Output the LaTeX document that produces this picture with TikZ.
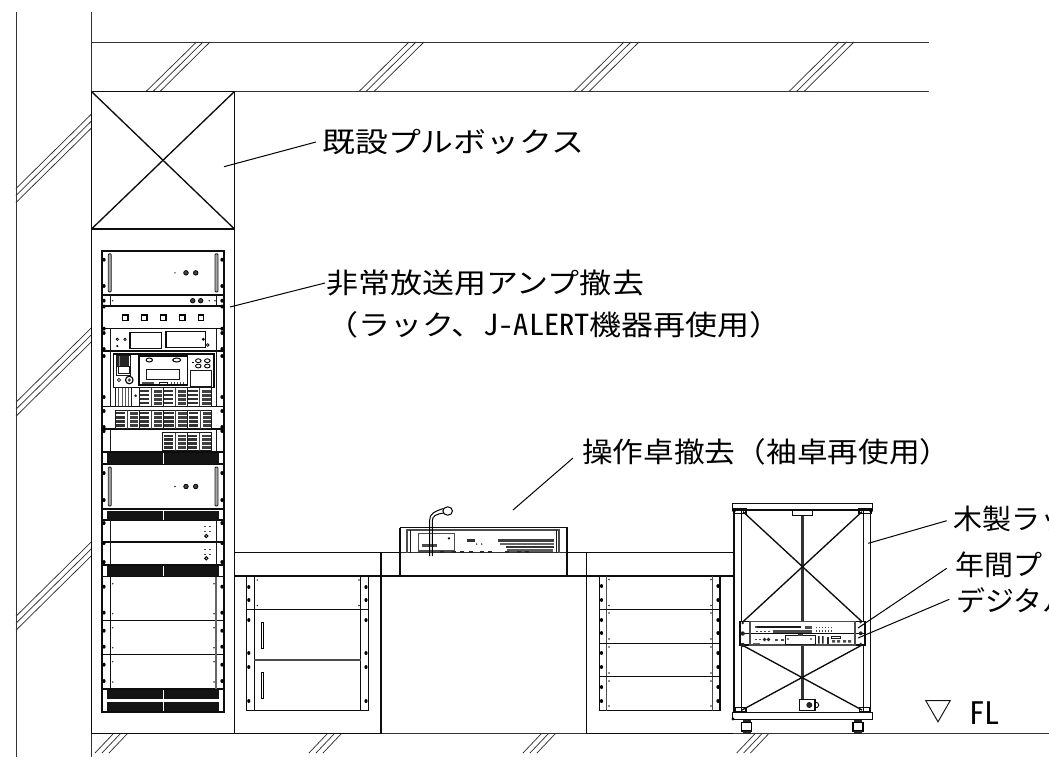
\documentclass[tikz,border=0pt]{standalone}
\usepackage{fontspec}
\setmainfont{Noto Sans CJK JP}
\newfontfamily\hw{Noto Sans CJK JP}[RawFeature=+hwid]
\tikzset{
  wall/.style={line width=1pt,draw=black!80},
  hatch/.style={line width=0.75pt,draw=black!80},
  frame/.style={line width=1.35pt,draw=black!95},
  thinl/.style={line width=0.8pt,draw=black!90},
  heavy/.style={line width=1.7pt,draw=black!95},
  leader/.style={line width=1pt,draw=black},
  lab/.style={anchor=west,inner sep=0pt,font=\fontsize{28}{32}\selectfont,text=black},
}
\definecolor{ventc}{gray}{0.08}
\newcommand{\spc}[1]{\addfontfeatures{FakeStretch=#1}}
\newcommand{\scr}[2]{\fill[black] (#1,#2) ellipse (1.6 and 2);}
\newcommand{\dott}[2]{\fill[black!85] (#1,#2) circle (0.8);}
\newcommand{\vent}[2]{\fill[ventc] (106.7,#1) rectangle (219.3,#2);\draw[white,line width=0.7pt] (163,#1)--(163,#2);}
\newcommand{\knob}[2]{\draw[line width=0.7pt,fill=black!75] (#1,#2) circle (2.3);}
% breaker module: x1 y1 x2 y2
\newcommand{\brk}[4]{%
  \draw[line width=1pt,draw=black!90] (#1,#2) rectangle (#3,#4);
  \foreach \k in {0.1,0.32,0.54,0.76}{
    \fill[black!80] ({#1+1},{#2+\k*(#4-#2)}) rectangle ({#1+0.42*(#3-#1)},{#2+(\k+0.14)*(#4-#2)});
    \fill[black!75] ({#1+0.62*(#3-#1)},{#2+\k*(#4-#2)}) rectangle ({#3-1},{#2+(\k+0.16)*(#4-#2)});
  }
  \draw[line width=1pt,draw=black!75] ({#1+0.52*(#3-#1)},#2)--({#1+0.52*(#3-#1)},#4);
}
\newcommand{\ampunit}[2]{%
  \draw[thinl,rounded corners=1pt,fill=black!35] (108.3,{#1+3}) rectangle (111.3,{#2-3});
  \draw[thinl,rounded corners=1pt,fill=black!35] (215,{#1+3}) rectangle (218,{#2-3});
  \knob{186}{{(#1+#2)/2}}\knob{195.7}{{(#1+#2)/2}}\dott{175}{{(#1+#2)/2}}
  \scr{104}{{#1+9}}\scr{222}{{#1+9}}\scr{104}{{#2-9}}\scr{222}{{#2-9}}
}
\newcommand{\blank}[2]{%
  \dott{112.7}{{#1+7}}\dott{214}{{#1+7}}\dott{112.7}{{#2-7}}\dott{214}{{#2-7}}
  \scr{104}{{#1+10}}\scr{222}{{#1+10}}\scr{104}{{#2-8}}\scr{222}{{#2-8}}
}
\begin{document}
\begin{tikzpicture}[x=1pt,y=-1pt]
\useasboundingbox (0,0) rectangle (1049,764);
% walls
\draw[wall] (16,12)--(16,757);
\draw[wall] (91.5,12)--(91.5,757);
\draw[wall] (91.5,42)--(929,42);
\draw[wall] (91.5,91.5)--(929,91.5);
\draw[wall] (91.5,733.5)--(1049,733.5);
% hatches: top
\foreach \t/\b in {196.5/146,203/153,210/160,409/359,416/366,424/374,624/574,631/581,639/589,839/789,846.5/796.5,854/804}
  \draw[hatch] (\t,42)--(\b,91.5);
% hatches: left
\foreach \d in {114,121,128,327.7,334.7,341.7,541.7,548.7,555.7}
  \draw[hatch] (91.5,\d)--(16,{\d+74.5});
% hatches: floor
\foreach \t in {113,120,127,327,334,341,541,548,555,754.7,761.6,768.4}
  \draw[hatch] (\t,734)--({\t-18},753);
% pull box
\draw[frame] (91.5,91.5) rectangle (234.5,229);
\draw[frame] (91.5,91.5)--(234.5,229) (91.5,229)--(234.5,91.5);
% rack column
\draw[frame] (91.5,229)--(91.5,733.5)--(234.5,733.5)--(234.5,229);
% ---- rack ----
\draw[heavy] (102,250.7) rectangle (224.3,711.7);
\foreach \y in {295,306,328.7,351,406.7,429,452,464,509,520,542,565,576.7,620.7,654.7,689}
  \draw[frame] (102,\y)--(224.3,\y);
\ampunit{250.7}{295}
% unit 2
\knob{192.7}{300.7}\knob{200.7}{300.7}\dott{112.7}{300.7}\dott{209.3}{300.7}\dott{215}{300.7}
\scr{104}{300.7}\scr{222}{300.7}
\draw[thinl] (110.7,295)--(110.7,306) (216,295)--(216,306);
% unit 3
\foreach \x in {125.3,144.3,163.3,182.3,201}
  \draw[line width=1.1pt] (\x-2.7,315) rectangle (\x+2.7,320.4);
\scr{104}{306.5}\scr{222}{306.5}\scr{104}{328.7}\scr{222}{328.7}
% unit 4
\draw[frame] (130,332.3) rectangle (161.7,348.3);
\draw[frame] (166,331.7) rectangle (205.7,347.7);
\draw[thinl] (110.7,328.7)--(110.7,351) (216,328.7)--(216,351);
\draw[line width=0.7pt] (117.3,339.3) circle (1.2) (125,339.3) circle (1.2) (207.7,345) circle (1.4);
\fill (117.3,346) circle (1.2) (203.3,339.3) circle (1.6);
\scr{104}{333}\scr{222}{333}\scr{104}{349}\scr{222}{349}
% unit 5 (control panel)
\draw[thinl] (110.7,351)--(110.7,406.7) (216,351)--(216,406.7);
\draw[frame] (113.3,354) rectangle (214,387.3);
\draw[thinl] (116.7,355) rectangle (130,375);
\fill[black!85] (117.3,355.5) rectangle (129.4,366.5);
\fill[black!45] (118.5,356) rectangle (120,366);
\draw[thinl,fill=white] (118,366.5) rectangle (129,373);
\draw[line width=1.1pt] (129.3,380) circle (3.8);
\fill[black!70] (129.3,380) circle (1.8);
\draw[thinl] (119,380) circle (1.6);
\draw[frame] (139,356) rectangle (187.7,385);
\draw[thinl] (146.7,369.3) rectangle (179.3,379.3);
\draw[line width=1pt] (149.3,360) ellipse (3.2 and 2) (176.7,360) ellipse (4 and 2);
\fill[black!70] (142,382) rectangle (154,384);
\draw[thinl] (159,382) rectangle (167,384.5);
\foreach \x in {171,174,177,180,183}{\fill[black!70] (\x,382) rectangle (\x+1.4,384);}
\draw[thinl] (190,370) rectangle (211.7,386);
\foreach \x in {198.3,207.3}{
  \draw[line width=0.9pt] (\x,360.7) ellipse (2.8 and 1.9);
  \draw[line width=0.9pt] (\x,366) ellipse (2.8 and 1.9);}
\fill (192,362) rectangle (194,363);
\fill (200.5,369.5) rectangle (202,371);
% breakers under panel
\draw[thinl] (115,387.3) rectangle (131,406);
\foreach \x in {118.5,122,125.5,128}{\draw[line width=0.8pt,draw=black!65] (\x,388)--(\x,405.5);}
\fill[black!85] (135.7,395.7) circle (1.5);
\brk{139.3}{387.8}{163.3}{406}\brk{163.3}{387.8}{187.3}{406}\brk{187.3}{387.8}{211.7}{406}
\brk{115}{410}{139.2}{428.5}\brk{139.2}{410}{163.4}{428.5}\brk{163.4}{410}{187.5}{428.5}\brk{187.5}{410}{211.7}{428.5}
\brk{162.7}{432.7}{187.2}{450.7}\brk{187.2}{432.7}{211.7}{450.7}
\draw[thinl] (110.7,429)--(110.7,452) (216,429)--(216,452);
\scr{104}{356}\scr{222}{356}\scr{104}{397}\scr{222}{397}\scr{104}{411}\scr{222}{411}\scr{104}{427}\scr{222}{427}\scr{104}{431}\scr{222}{431}
% vents
\vent{452.5}{463.5}
\ampunit{464}{509}
\vent{510.5}{519.5}
% two small units
\draw[thinl] (110.7,520)--(110.7,565) (216,520)--(216,565);
\foreach \y in {526.7,531.7,549,554}{\foreach \x in {205,210}{\fill[black!70] (\x-0.8,\y-0.4) rectangle (\x+0.8,\y+0.4);}}
\draw[line width=1pt] (206.3,536) circle (1.6) (206.3,558.3) circle (1.6);
\scr{104}{523}\scr{222}{523}\scr{104}{543}\scr{222}{543}\scr{104}{562}\scr{222}{562}
\vent{566}{576}
% blanks
\draw[frame] (110.7,576.7)--(110.7,689);
\draw[line width=1.5pt,draw=black!60] (216,576.7)--(216,689);
\blank{576.7}{620.7}\blank{620.7}{654.7}\blank{654.7}{689}
\vent{689.5}{699}\vent{701.7}{710.5}
% ---- desk ----
\draw[frame] (234.5,552.7)--(400,552.7);
\draw[frame] (567,552.7)--(733,552.7);
\draw[frame] (234.5,576)--(567,576) (567,576)--(733,576);
\draw[wall] (400,552.7)--(567,552.7);
\draw[frame] (381,552.7)--(381,733.5);
\draw[frame] (586.5,552.7)--(586.5,733.5);
\draw[frame] (234.5,733.5)--(381,733.5) (586.5,733.5)--(733,733.5);
% left desk rack
\draw[frame] (246.7,576)--(246.7,710.7)--(368.7,710.7)--(368.7,576);
\draw[frame] (254.3,576)--(254.3,710.7);
\draw[frame] (360.7,576)--(360.7,710.7);
\draw[frame] (246.7,609.3)--(368.7,609.3);
\draw[frame,draw=black!70] (254.3,660)--(360.7,660);
\foreach \a/\b in {622/648,672.7/698.7}
  \draw[line width=1pt] (261.2,\a) rectangle (263.3,\b);
\foreach \y in {587,600,620,653,667,701}{\scr{248.8}{\y}\scr{366}{\y}}
\dott{257.3}{580}\dott{257.3}{605.5}\dott{359}{580}\dott{359}{605.5}
% right desk rack
\draw[frame] (599.3,576)--(599.3,710.7)--(720,710.7)--(720,576);
\draw[frame,draw=black!70] (606.7,576)--(606.7,710.7);
\draw[frame,draw=black!70] (712.7,576)--(712.7,710.7);
\foreach \y in {609.3,643.3,676.7}{\draw[frame] (599.3,\y)--(720,\y);}
\foreach \y in {586,600,620,633,653,667,687,701}{\scr{601.5}{\y}\scr{718}{\y}}
\foreach \y in {579.5,605.5,613,639,647,673,681,706}{\dott{609}{\y}\dott{711}{\y}}
% ---- console ----
\draw[frame] (400,527.7)--(567,527.7)--(567,576);
\draw[frame] (400,527.7)--(400,576);
\draw[frame,draw=black!70] (407,553)--(407,530)--(559,530)--(559,553);
\draw[thinl] (410,530)--(410,553) (556.7,530)--(556.7,553);
\draw[frame,draw=black!70] (418.3,551)--(418.3,533.3)--(454.3,533.3)--(454.3,551)--cycle;
\fill[black!70] (421.7,544.3) rectangle (437.3,547.3);
\fill (449,538.3) circle (1.3);
\fill[black!80] (467.3,539.3) rectangle (475.3,541.7);
\dott{476.7}{544}\dott{481.7}{544}
\fill[black!75] (498.3,539.3) rectangle (554,541.7);
\fill[black!60] (500,542.7) rectangle (554,545);
\fill[black!80] (506,545.7) rectangle (554,548.3);
\fill[black!65] (506.7,549) rectangle (553.3,551.7);
\foreach \x in {440,452,460,469,480,488,505,517,525}{\fill[black!85] (\x,551) rectangle (\x+3.5,553);}
% mic
\draw[line width=1pt] (429.7,556)--(429.7,520) .. controls (429.7,514) and (434,511.5) .. (443.5,508.5);
\draw[line width=1pt] (432.3,556)--(432.3,521) .. controls (432.3,516) and (436,514) .. (444,513);
\draw[line width=1pt,fill=white] (447.7,511) ellipse (4.8 and 4.2);
% ---- wooden rack ----
\draw[frame] (734,510)--(734,712.7) (741.7,510)--(741.7,712.7);
\draw[frame] (863.3,510)--(863.3,712.7) (870.7,510)--(870.7,712.7);
\draw[frame] (732.7,503.3) rectangle (872.7,510);
\draw[frame] (732.7,712.7) rectangle (872.7,719.3);
\draw[line width=2.2pt,draw=black!80] (802.5,510)--(802.5,699.5);
\draw[frame,fill=white] (792.7,510) rectangle (812.7,515.7);
\draw[frame] (743,511.7)--(862,621.7) (862,511.7)--(743,621.7);
\draw[frame] (742,645)--(862,710) (862,645)--(742,710);
\draw[frame] (734,509) rectangle (746,513.5) (859,509) rectangle (871,513.5);
\draw[frame] (735,707.5) rectangle (746,711.7) (859.3,707.5) rectangle (870,711.7);
\fill (734,511) circle (1.8) (871,511) circle (1.8);
\fill (733,719) circle (1.6);
% bottom box
\draw[frame,fill=white] (799.3,699.3) rectangle (815,710.7);
\fill[black!85] (809.3,705) circle (3);
\draw[line width=0.9pt] (815,702) .. controls (820,702) and (820,708) .. (815,708);
% equipment
\draw[frame,fill=white] (740,621.7) rectangle (865,645);
\draw[frame] (740,633.3)--(865,633.3);
\draw[frame,draw=black!70] (750,621.7) rectangle (855,645);
\fill[black!70] (755,625.5) rectangle (801,628);
\draw[thinl,fill=white] (757,626) rectangle (800,627.5);
\fill[black!70] (805,626.3) rectangle (812,629);
\foreach \x in {815.5,818.5,...,831}{\fill[black!70] (\x,626.5) rectangle (\x+1.6,628);\fill[black!70] (\x,630) rectangle (\x+1.6,631.5);}
\foreach \x in {756,760,764,768}{\fill[black!70] (\x,630.5) rectangle (\x+2,631.8);}
\fill[black!70] (773.3,630) rectangle (812,633);
\draw[thinl,fill=white] (785,635.7) rectangle (815,644);
\fill[black!75] (798,633.5) rectangle (803,636);
\fill (788,639) circle (0.8) (811,639) circle (0.8);
\foreach \x in {755,759}{\fill[black!70] (\x,638.5) rectangle (\x+2,640);}
\fill[black!85] (764.5,639.5) circle (1.9) (768.5,639.5) circle (1.9);
\foreach \x in {775,781}{\fill[black!70] (\x,638.5) rectangle (\x+2.5,640.5);}
\fill[black!60] (753,643) rectangle (760,644);
\fill[black!85] (818,636) rectangle (819.5,643.5) (822,636) rectangle (823.5,643.5);
\fill[black!85] (827,636.5) rectangle (828.5,643.5);
\draw[thinl] (831.7,636.5) rectangle (840,638.5);
\fill[black!70] (832,640) rectangle (835,642.5) (837,640) rectangle (840,642.5);
\fill[black!70] (843,640) rectangle (846,642.5) (848,640) rectangle (851,642.5);
\fill[black!85] (742.7,623) circle (1.4) (742.7,633.5) circle (2.2) (742.7,645) circle (2.2);
\fill[black!85] (860.7,622.3) circle (1.2) (860.7,633.3) circle (2) (860.7,644) circle (1.4);
% casters
\foreach \x in {741.7,853}{
  \fill[black!85] (\x+1,720) rectangle (\x+9,722.5);
  \draw[line width=1.1pt] (\x,722.5) rectangle (\x+10,731);
  \fill[black!85] (\x+1,731) rectangle (\x+9,733.5);
}
% ---- leaders and labels ----
\coordinate (pa) at (224,166.7);  \coordinate (pb) at (316,142);
\coordinate (aa) at (230,307);    \coordinate (ab) at (325,283);
\coordinate (ca) at (513,510);    \coordinate (cb) at (573,458);
\coordinate (wa) at (868.3,543.3);\coordinate (wb) at (946.7,520.7);
\coordinate (ya) at (858,628);    \coordinate (yb) at (946.7,568.3);
\coordinate (da) at (858,638);    \coordinate (db) at (949.3,599.3);
\draw[leader] (pa)--(pb);
\draw[leader] (aa)--(ab);
\draw[leader] (ca)--(cb);
\draw[leader] (wa)--(wb);
\draw[leader] (ya)--(yb);
\draw[leader] (da)--(db);
\node[lab] (tpull) at (322,142) {\spc{1.175}既設プルボックス};
\node[lab] (tamp) at (326,283) {\spc{1.143}非常放送用アンプ撤去};
\node[lab] (track) at (326,325) {\spc{1.143}（ラック、{\hw\fontsize{29}{32}\selectfont\addfontfeatures{FakeStretch=1.05}J-ALERT}機器再使用）};
\node[lab] (tcons) at (582,452) {\spc{1.096}操作卓撤去（袖卓再使用）};
\begin{scope}
\clip (900,490) rectangle (1049,620);
\node[lab] (twood) at (953,519) {\spc{1.036}木製ラック};
\node[lab] (tyear) at (955,565) {\spc{1.036}年間プ};
\node[lab] (tdigi) at (956,600) {\spc{1.036}デジタル};
\end{scope}
\node[lab] (ttri) at (924,712) {▽};
\node[lab,font=\fontsize{31}{34}\selectfont] (tfl) at (969,713) {\hw\fontsize{31}{34}\selectfont FL};
\end{tikzpicture}
\end{document}
